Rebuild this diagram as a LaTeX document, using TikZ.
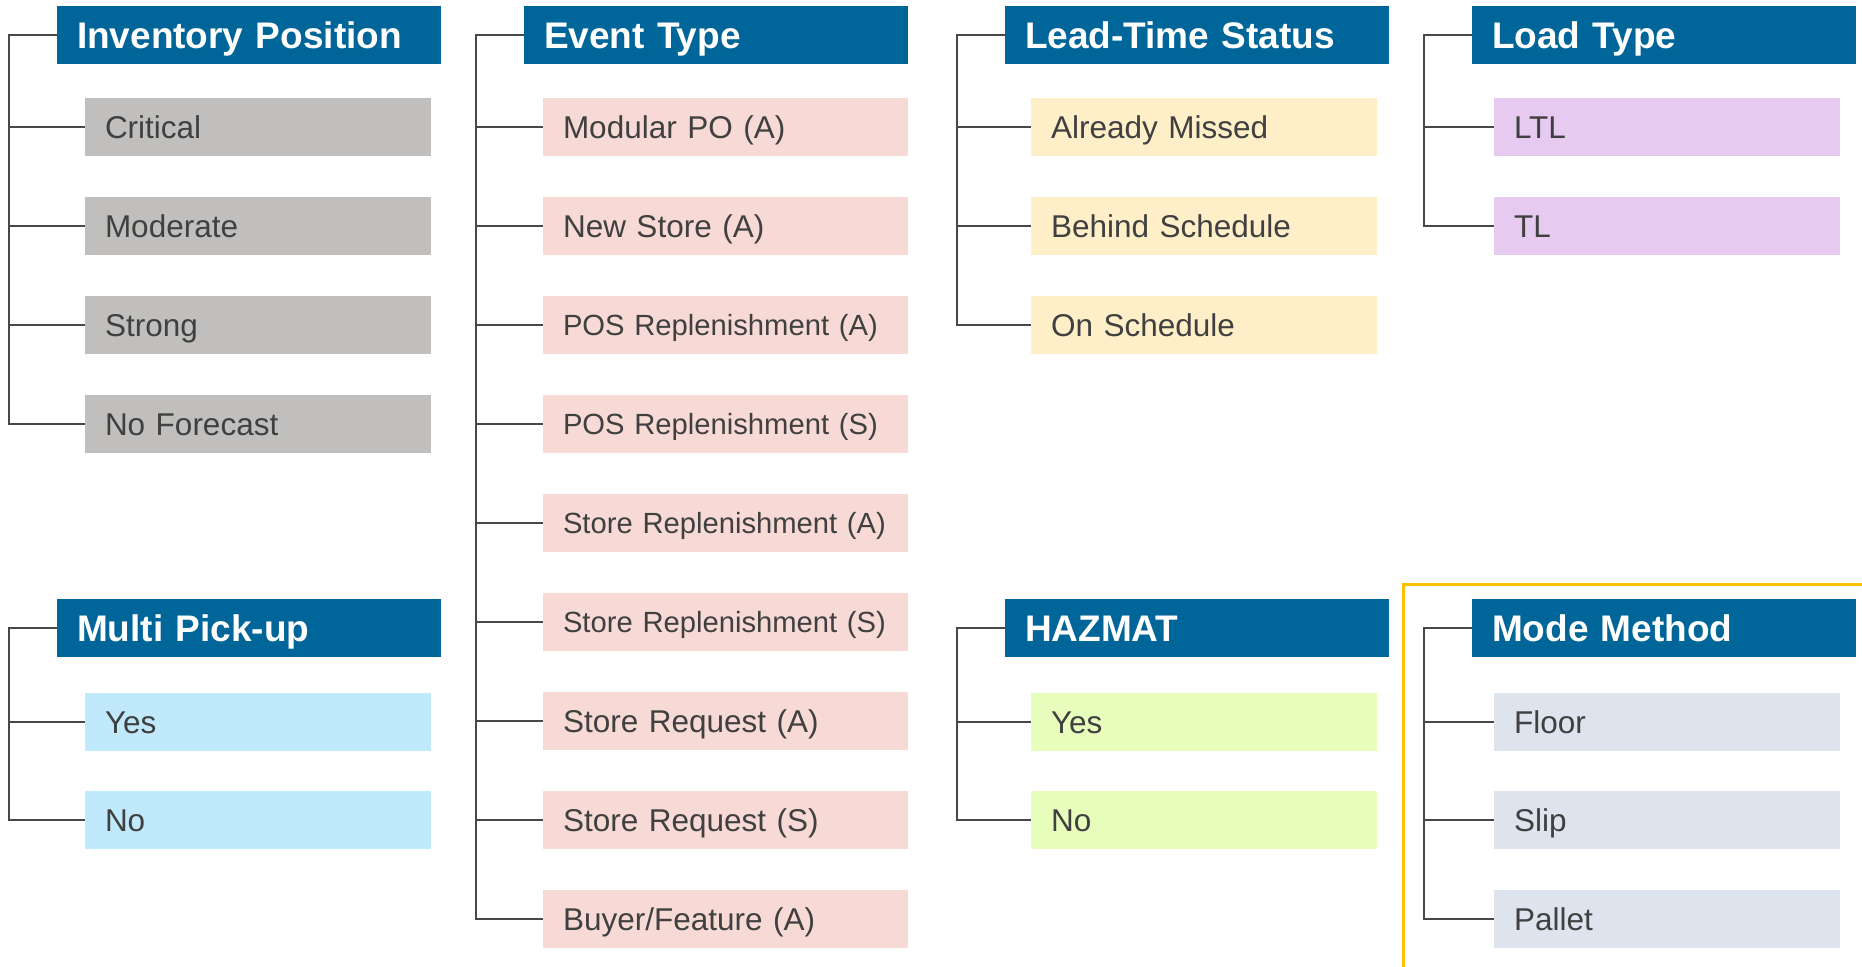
\documentclass[tikz,border=0pt]{standalone}
\usepackage{fontspec}
\setmainfont{Liberation Sans}

\definecolor{testata}{RGB}{0,102,153}
\definecolor{testo}{RGB}{64,64,64}
\definecolor{linea}{RGB}{72,72,72}
\definecolor{grigio}{RGB}{192,191,189}
\definecolor{rosa}{RGB}{247,218,213}
\definecolor{giallo}{RGB}{255,239,201}
\definecolor{viola}{RGB}{230,202,239}
\definecolor{azzurro}{RGB}{193,233,252}
\definecolor{verde}{RGB}{230,253,188}
\definecolor{grigioblu}{RGB}{221,228,238}
\definecolor{oro}{RGB}{255,192,0}

\tikzset{
  titolo/.style={fill=testata, text=white, font=\bfseries\fontsize{18.5}{22}\selectfont,
    text width=172pt, inner xsep=10pt, inner ysep=0pt, minimum height=29pt,
    text height=13.2pt, text depth=0pt, align=left},
  voce/.style={text=testo, font=\fontsize{15.75}{19}\selectfont,
    text width=153pt, inner xsep=10pt, inner ysep=0pt, minimum height=29pt,
    text height=11.3pt, text depth=0pt, align=left},
  voce lunga/.style={voce, text width=162.5pt},
  voce piccola/.style={voce lunga, font=\fontsize{14.6}{18}\selectfont, text height=10.5pt},
  ramo/.style={draw=linea, line width=1pt},
}

\begin{document}
\begin{tikzpicture}[x=0.5pt, y=-0.5pt]
\useasboundingbox (0,0) rectangle (1862,966);

    % Riquadro giallo attorno a Mode Method
    \draw[oro, line width=1.5pt] (1403,970) -- (1403,584) -- (1866,584);

    % Inventory Position
    \node[titolo] (tInv) at (249,35) {Inventory Position};
    \node[voce, fill=grigio] (iCrit) at (258,127) {Critical};
    \node[voce, fill=grigio] (iMod) at (258,226) {Moderate};
    \node[voce, fill=grigio] (iStr) at (258,325) {Strong};
    \node[voce, fill=grigio] (iNoF) at (258,424) {No Forecast};
    \draw[ramo] (tInv.west) -- ++(-48,0) |- (iCrit.west);
    \draw[ramo] (tInv.west) -- ++(-48,0) |- (iMod.west);
    \draw[ramo] (tInv.west) -- ++(-48,0) |- (iStr.west);
    \draw[ramo] (tInv.west) -- ++(-48,0) |- (iNoF.west);

    % Event Type
    \node[titolo] (tEvt) at (716,35) {Event Type};
    \node[voce lunga, fill=rosa] (eMod) at (725.5,127) {Modular PO (A)};
    \node[voce lunga, fill=rosa] (eNew) at (725.5,226) {New Store (A)};
    \node[voce piccola, fill=rosa] (ePosA) at (725.5,325) {POS Replenishment (A)};
    \node[voce piccola, fill=rosa] (ePosS) at (725.5,424) {POS Replenishment (S)};
    \node[voce piccola, fill=rosa] (eStrA) at (725.5,523) {Store Replenishment (A)};
    \node[voce piccola, fill=rosa] (eStrS) at (725.5,622) {Store Replenishment (S)};
    \node[voce lunga, fill=rosa] (eReqA) at (725.5,721) {Store Request (A)};
    \node[voce lunga, fill=rosa] (eReqS) at (725.5,820) {Store Request (S)};
    \node[voce lunga, fill=rosa] (eBuy) at (725.5,919) {Buyer/Feature (A)};
    \draw[ramo] (tEvt.west) -- ++(-48,0) |- (eMod.west);
    \draw[ramo] (tEvt.west) -- ++(-48,0) |- (eNew.west);
    \draw[ramo] (tEvt.west) -- ++(-48,0) |- (ePosA.west);
    \draw[ramo] (tEvt.west) -- ++(-48,0) |- (ePosS.west);
    \draw[ramo] (tEvt.west) -- ++(-48,0) |- (eStrA.west);
    \draw[ramo] (tEvt.west) -- ++(-48,0) |- (eStrS.west);
    \draw[ramo] (tEvt.west) -- ++(-48,0) |- (eReqA.west);
    \draw[ramo] (tEvt.west) -- ++(-48,0) |- (eReqS.west);
    \draw[ramo] (tEvt.west) -- ++(-48,0) |- (eBuy.west);

    % Lead-Time Status
    \node[titolo] (tLead) at (1197,35) {Lead-Time Status};
    \node[voce, fill=giallo] (lMis) at (1204,127) {Already Missed};
    \node[voce, fill=giallo] (lBeh) at (1204,226) {Behind Schedule};
    \node[voce, fill=giallo] (lOn) at (1204,325) {On Schedule};
    \draw[ramo] (tLead.west) -- ++(-48,0) |- (lMis.west);
    \draw[ramo] (tLead.west) -- ++(-48,0) |- (lBeh.west);
    \draw[ramo] (tLead.west) -- ++(-48,0) |- (lOn.west);

    % Load Type
    \node[titolo] (tLoad) at (1664,35) {Load Type};
    \node[voce, fill=viola] (dLtl) at (1667,127) {LTL};
    \node[voce, fill=viola] (dTl) at (1667,226) {TL};
    \draw[ramo] (tLoad.west) -- ++(-48,0) |- (dLtl.west);
    \draw[ramo] (tLoad.west) -- ++(-48,0) |- (dTl.west);

    % Multi Pick-up
    \node[titolo] (tMul) at (249,628) {Multi Pick-up};
    \node[voce, fill=azzurro] (mYes) at (258,722) {Yes};
    \node[voce, fill=azzurro] (mNo) at (258,820) {No};
    \draw[ramo] (tMul.west) -- ++(-48,0) |- (mYes.west);
    \draw[ramo] (tMul.west) -- ++(-48,0) |- (mNo.west);

    % HAZMAT
    \node[titolo] (tHaz) at (1197,628) {HAZMAT};
    \node[voce, fill=verde] (hYes) at (1204,722) {Yes};
    \node[voce, fill=verde] (hNo) at (1204,820) {No};
    \draw[ramo] (tHaz.west) -- ++(-48,0) |- (hYes.west);
    \draw[ramo] (tHaz.west) -- ++(-48,0) |- (hNo.west);

    % Mode Method
    \node[titolo] (tMode) at (1664,628) {Mode Method};
    \node[voce, fill=grigioblu] (oFlo) at (1667,722) {Floor};
    \node[voce, fill=grigioblu] (oSli) at (1667,820) {Slip};
    \node[voce, fill=grigioblu] (oPal) at (1667,919) {Pallet};
    \draw[ramo] (tMode.west) -- ++(-48,0) |- (oFlo.west);
    \draw[ramo] (tMode.west) -- ++(-48,0) |- (oSli.west);
    \draw[ramo] (tMode.west) -- ++(-48,0) |- (oPal.west);

\end{tikzpicture}
\end{document}
